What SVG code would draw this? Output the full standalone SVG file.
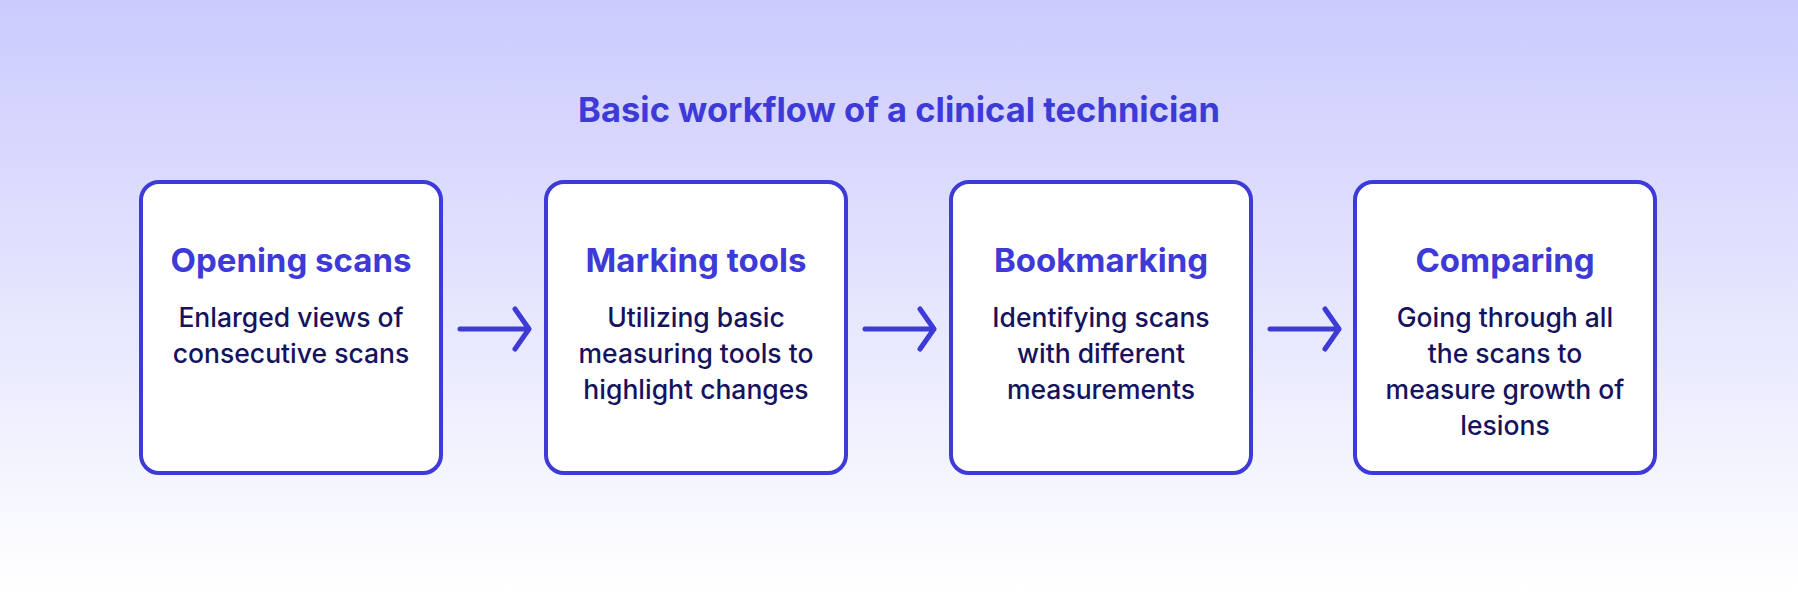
<svg xmlns="http://www.w3.org/2000/svg" width="1798" height="593" viewBox="0 0 1798 593">
<defs>
<linearGradient id="bg" x1="0" y1="0" x2="0" y2="1">
<stop offset="0" stop-color="#cbcbfe"/>
<stop offset="1" stop-color="#ffffff"/>
</linearGradient>
<style>
.box{fill:#fff;stroke:#3d3ad8;stroke-width:4}
.h{font-family:Inter,"Liberation Sans",sans-serif;font-weight:700;font-size:33px;fill:#3d3ad8;text-anchor:middle}
.t{font-family:Inter,"Liberation Sans",sans-serif;font-weight:500;font-size:26.5px;fill:#15135e;text-anchor:middle}
.a{fill:none;stroke:#3d3ad8;stroke-width:5;stroke-linecap:round;stroke-linejoin:round}
</style>
</defs>
<rect width="1798" height="593" fill="url(#bg)"/>
<text x="899" y="122" class="h" style="font-size:34.5px">Basic workflow of a clinical technician</text>
<g id="n1"><rect class="box" x="141" y="182" width="300" height="291" rx="18"/>
<text x="291" y="272" class="h">Opening scans</text>
<text class="t" x="291" y="327">Enlarged views of</text><text class="t" x="291" y="363">consecutive scans</text></g>
<g id="n2"><rect class="box" x="546" y="182" width="300" height="291" rx="18"/>
<text x="696" y="272" class="h">Marking tools</text>
<text class="t" x="696" y="327">Utilizing basic</text><text class="t" x="696" y="363">measuring tools to</text><text class="t" x="696" y="399">highlight changes</text></g>
<g id="n3"><rect class="box" x="951" y="182" width="300" height="291" rx="18"/>
<text x="1101" y="272" class="h">Bookmarking</text>
<text class="t" x="1101" y="327">Identifying scans</text><text class="t" x="1101" y="363">with different</text><text class="t" x="1101" y="399">measurements</text></g>
<g id="n4"><rect class="box" x="1355" y="182" width="300" height="291" rx="18"/>
<text x="1505" y="272" class="h">Comparing</text>
<text class="t" x="1505" y="327">Going through all</text><text class="t" x="1505" y="363">the scans to</text><text class="t" x="1505" y="399">measure growth of</text><text class="t" x="1505" y="435">lesions</text></g>
<g id="connectors">
<path class="a" d="M460 329H529M515 309L529 329L515 349"/>
<path class="a" d="M865 329H934M920 309L934 329L920 349"/>
<path class="a" d="M1270 329H1339M1325 309L1339 329L1325 349"/>
</g>
</svg>
